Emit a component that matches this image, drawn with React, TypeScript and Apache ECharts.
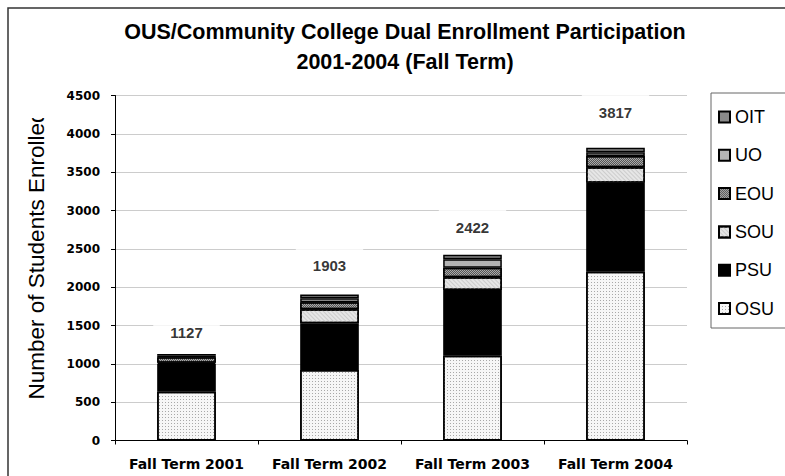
import React, { useEffect, useRef } from "react";
import * as echarts from "echarts";

const categories = ["Fall Term 2001", "Fall Term 2002", "Fall Term 2003", "Fall Term 2004"];
const osu = [636, 920, 1106, 2202];
const psu = [362, 609, 857, 1161];
const sou = [15, 182, 166, 200];
const eou = [72, 92, 125, 148];
const uo = [22, 52, 109, 50];
const oit = [20, 48, 59, 56];
const totals = [1127, 1903, 2422, 3817];
const legendOrder = ["OIT", "UO", "EOU", "SOU", "PSU", "OSU"];
const yMax = 4500;
const yStep = 500;
const titleText = "OUS/Community College Dual Enrollment Participation\n2001-2004 (Fall Term)";
const yAxisTitle = "Number of Students Enrolled";

export default function App() {
  const ref = useRef<HTMLDivElement>(null);
  useEffect(() => {
    if (!ref.current) return;
    const chart = echarts.init(ref.current, undefined, { renderer: "svg" });
    const border = { borderColor: "#000", borderWidth: 1.5 };
    const labelDist = [9, 17, 15, 23];
    const option: any = {
      animation: false,
      backgroundColor: "#ffffff",
      title: {
        text: titleText,
        left: 400,
        top: 12,
        textAlign: "center",
        textStyle: {
          fontFamily: "Liberation Sans",
          fontWeight: "bold",
          fontSize: 21.5,
          lineHeight: 30,
          color: "#000",
        },
      },
      legend: {
        orient: "vertical",
        left: 711,
        top: 93,
        data: legendOrder,
        icon: "rect",
        itemWidth: 11,
        itemHeight: 11,
        itemGap: 20.3,
        padding: [15, 30, 10.5, 7],
        borderColor: "#666",
        borderWidth: 1,
        backgroundColor: "#fff",
        textStyle: { fontFamily: "Liberation Sans", fontSize: 18, lineHeight: 17, color: "#000" },
      },
      grid: { left: 115, top: 95.5, right: 98, bottom: 35.5 },
      xAxis: {
        type: "category",
        data: categories,
        axisLine: { lineStyle: { color: "#000", width: 1 } },
        axisTick: { show: true, length: 4, lineStyle: { color: "#000" } },
        axisLabel: {
          interval: 0,
          margin: 16,
          fontFamily: "DejaVu Sans",
          fontWeight: "bold",
          fontSize: 14,
          color: "#000",
        },
      },
      yAxis: {
        type: "value",
        min: 0,
        max: yMax,
        interval: yStep,
        axisLine: { show: true, lineStyle: { color: "#000", width: 1 } },
        axisTick: { show: true, length: 4, lineStyle: { color: "#000" } },
        splitLine: { lineStyle: { color: "#cccccc", width: 1 } },
        axisLabel: {
          margin: 15,
          fontFamily: "DejaVu Sans",
          fontWeight: "bold",
          fontSize: 12,
          color: "#000",
          formatter: (v: number) => String(v),
        },
      },
      series: [
        {
          name: "OSU",
          type: "bar",
          stack: "all",
          barWidth: "41%",
          data: osu,
          itemStyle: {
            color: "#f6f6f6",
            ...border,
            decal: {
              symbol: "rect",
              symbolSize: 1,
              color: "#a8a8a8",
              backgroundColor: "#ffffff",
              dashArrayX: [1, 2],
              dashArrayY: [1, 2],
            },
          },
        },
        {
          name: "PSU",
          type: "bar",
          stack: "all",
          data: psu,
          itemStyle: { color: "#000000", ...border },
        },
        {
          name: "SOU",
          type: "bar",
          stack: "all",
          data: sou,
          itemStyle: {
            color: "#e6e6e6",
            ...border,
            decal: {
              symbol: "rect",
              symbolSize: 1,
              color: "#cccccc",
              backgroundColor: "#eeeeee",
              dashArrayX: [1, 0],
              dashArrayY: [1, 2],
              rotation: Math.PI / 4,
            },
          },
        },
        {
          name: "EOU",
          type: "bar",
          stack: "all",
          data: eou,
          itemStyle: {
            color: "#aaaaaa",
            ...border,
            decal: {
              symbol: "rect",
              symbolSize: 1,
              color: "#555555",
              backgroundColor: "#d8d8d8",
              dashArrayX: [[1, 1], [0, 1, 1, 0]],
              dashArrayY: [1, 0],
            },
          },
        },
        {
          name: "UO",
          type: "bar",
          stack: "all",
          data: uo,
          itemStyle: { color: "#b4b4b4", ...border },
        },
        {
          name: "OIT",
          type: "bar",
          stack: "all",
          data: oit,
          itemStyle: { color: "#8a8a8a", ...border },
        },
        {
          name: "Total",
          type: "scatter",
          symbolSize: 0,
          data: totals.map((v, i) => ({
            value: v,
            label: { distance: labelDist[i] },
          })),
          label: {
            show: true,
            position: "top",
            fontFamily: "Liberation Sans",
            fontWeight: "bold",
            fontSize: 15,
            lineHeight: 17,
            color: "#000",
            backgroundColor: "#ffffff",
            padding: [10, 17, 4, 17],
          },
          z: 5,
          silent: true,
        },
      ],
      graphic: [
        {
          type: "rect",
          shape: { x: 8, y: 8, width: 800, height: 500 },
          style: { fill: "none", stroke: "#333", lineWidth: 1.5 },
          silent: true,
          z: 10,
        },
        {
          type: "text",
          x: 36,
          y: 255,
          rotation: Math.PI / 2,
          style: {
            text: yAxisTitle,
            fontFamily: "Liberation Sans",
            fontSize: 22.5,
            fill: "#000",
            align: "center",
            verticalAlign: "middle",
          },
          z: 10,
        },
        {
          type: "rect",
          shape: { x: 18, y: 96, width: 34, height: 22 },
          style: { fill: "#ffffff" },
          z: 11,
        },
      ],
    };
    chart.setOption(option);
    return () => chart.dispose();
  }, []);
  return (
    <div
      ref={ref}
      style={{ position: "fixed", left: 0, top: 0, width: 785, height: 476 }}
    />
  );
}
